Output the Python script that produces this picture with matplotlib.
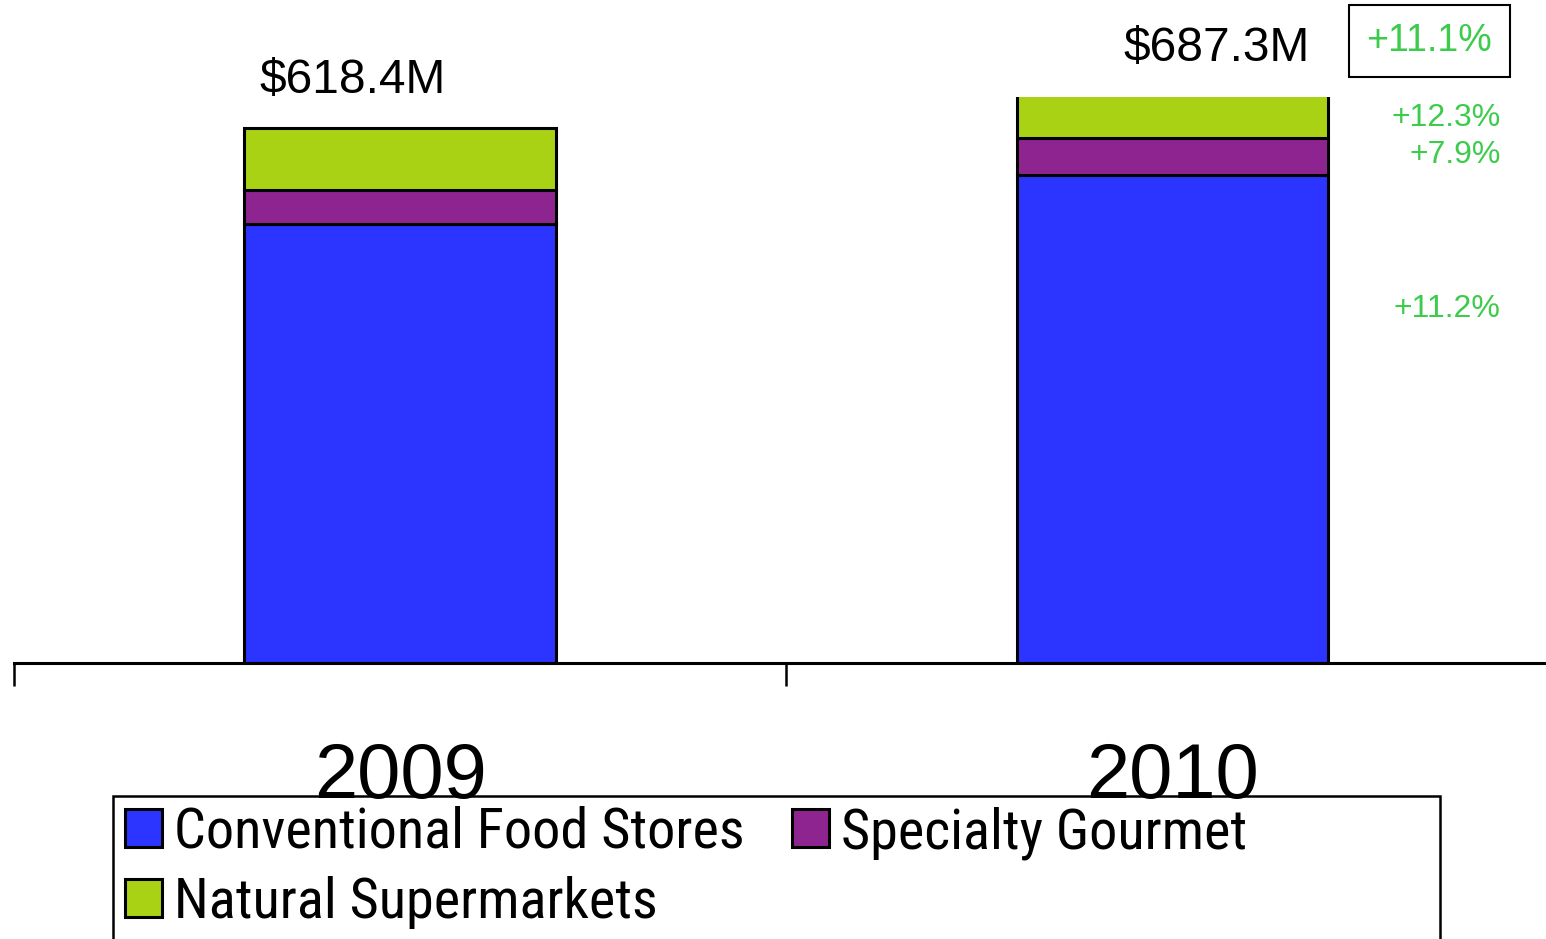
import matplotlib
matplotlib.use("Agg")
import matplotlib.pyplot as plt
from matplotlib.patches import Rectangle, Patch

# data (US$ millions)
years = ["2009", "2010"]
segments = ["Conventional Food Stores", "Specialty Gourmet", "Natural Supermarkets"]
conventional = [507.4, 564.3]
specialty = [39.3, 42.4]
natural = [71.7, 80.5]
totals = ["$618.4M", "$687.3M"]
growth_total = "+11.1%"
growth_labels = ["+12.3%", "+7.9%", "+11.2%"]

colors = ["#2b35ff", "#8e2490", "#aad215"]
green_txt = "#3ccb4b"

W, H = 1546, 939
fig = plt.figure(figsize=(W / 100, H / 100), dpi=100)
ax = fig.add_axes([14 / W, 1 - 663 / H, (W - 14) / W, (663 - 97) / H])

xs = [0.5, 1.5]
bottom = [0, 0]
for vals, col in zip([conventional, specialty, natural], colors):
    ax.bar(xs, vals, width=0.403, bottom=bottom, color=col,
           edgecolor="black", linewidth=2.2)
    bottom = [b + v for b, v in zip(bottom, vals)]

for s in ["left", "right", "top"]:
    ax.spines[s].set_visible(False)
ax.spines["bottom"].set_linewidth(2.2)
ax.set_yticks([])
ax.set_xticks([0, 1, 2])
ax.set_xticklabels([])
ax.tick_params(axis="x", which="major", direction="out", length=16.5, width=1.8)
ax.set_xticks(xs, minor=True)
ax.set_xticklabels(years, minor=True, fontsize=56, family="Liberation Sans")
ax.tick_params(axis="x", which="minor", length=0, pad=56)
ax.set_xlim(0, 1.984)
ax.set_ylim(0, 654.4)

# total labels above bars
total_pos = [(0.438, 673), (1.557, 710)]
for (x, y), t in zip(total_pos, totals):
    ax.text(x, y, t, ha="center", va="center", fontsize=34.5,
            family="Liberation Sans", clip_on=False)

# growth labels
ax.text(1.833, 719, growth_total, ha="center", va="center", fontsize=27,
        color=green_txt, family="Liberation Sans", clip_on=False,
        bbox=dict(boxstyle="square,pad=0.48", facecolor="white",
                  edgecolor="black", linewidth=1.5))
for y, t in zip([630, 587, 409], growth_labels):
    ax.text(1.925, y, t, ha="right", va="center", fontsize=23,
            color=green_txt, family="Liberation Sans", clip_on=False)

# legend (column-major order so row 1 = conventional, specialty)
order = [0, 2, 1]
handles = [Patch(facecolor=colors[i], edgecolor="black", linewidth=2.2) for i in order]
labels = [segments[i] for i in order]
fig.legend(handles, labels, loc="upper left",
           bbox_to_anchor=(125 / W, 1 - 806 / H), ncol=2, frameon=False,
           prop={"family": ["Liberation Sans Narrow", "DejaVu Sans Condensed",
                            "Roboto Condensed", "Roboto"], "size": 40.5},
           handlelength=0.65, handleheight=0.65, handletextpad=0.22,
           columnspacing=0.85, labelspacing=0.3, borderpad=0.0,
           borderaxespad=0.0)
fig.patches.append(Rectangle((113 / W, -0.05), (1440 - 113) / W, 1 - 796 / H + 0.05,
                             transform=fig.transFigure, facecolor="none",
                             edgecolor="black", linewidth=1.8))

fig.savefig("out.png", dpi=100)
